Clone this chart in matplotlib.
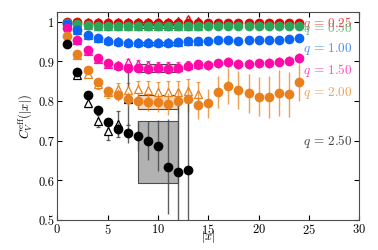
import matplotlib
matplotlib.use('Agg')
import matplotlib.pyplot as plt
from matplotlib.patches import Rectangle
from matplotlib.colors import to_rgba

plt.rcParams['font.family'] = 'serif'
plt.rcParams['font.serif'] = ['cmr10']
plt.rcParams['mathtext.fontset'] = 'cm'
plt.rcParams['axes.formatter.use_mathtext'] = True

# q values and colours
q_labels = ['0.25', '0.50', '1.00', '1.50', '2.00', '2.50']
colors = ['#e60000', '#2ca55a', '#0a64f5', '#ff0aa8', '#e8801e', '#000000']

# circles: x = 1..24 (black 1..13)
x_c = list(range(1, 25))
red_c = [0.999, 0.998, 0.997, 0.997, 0.997, 0.997, 0.997, 0.997, 0.997, 0.997, 0.997, 0.997,
         0.997, 0.997, 0.997, 0.997, 0.997, 0.997, 0.997, 0.997, 0.997, 0.997, 0.997, 0.997]
green_c = [0.997, 0.993, 0.991, 0.990, 0.990, 0.990, 0.990, 0.990, 0.990, 0.990, 0.990, 0.990,
           0.990, 0.990, 0.990, 0.990, 0.990, 0.990, 0.990, 0.990, 0.990, 0.990, 0.990, 0.990]
blue_c = [0.994, 0.980, 0.966, 0.958, 0.951, 0.949, 0.947, 0.946, 0.945, 0.947, 0.947, 0.948,
          0.951, 0.952, 0.951, 0.953, 0.955, 0.952, 0.953, 0.954, 0.953, 0.955, 0.956, 0.958]
mag_c = [0.983, 0.954, 0.929, 0.909, 0.895, 0.889, 0.883, 0.882, 0.881, 0.882, 0.881, 0.883,
         0.889, 0.892, 0.891, 0.895, 0.898, 0.893, 0.893, 0.895, 0.896, 0.899, 0.902, 0.908]
orange_c = [0.965, 0.918, 0.877, 0.848, 0.824, 0.814, 0.805, 0.799, 0.797, 0.796, 0.792, 0.800,
            0.804, 0.790, 0.794, 0.822, 0.837, 0.828, 0.819, 0.811, 0.810, 0.820, 0.817, 0.847]
black_c = [0.944, 0.874, 0.814, 0.777, 0.746, 0.729, 0.718, 0.712, 0.700, 0.687, 0.634, 0.621, 0.625]

red_ce = [0.002] * 24
green_ce = [0.002] * 24
blue_ce = [0.001, 0.002, 0.002, 0.003] + [0.004] * 20
mag_ce = [0.001, 0.002, 0.004, 0.005, 0.006, 0.007, 0.008, 0.009, 0.010, 0.010, 0.011, 0.011,
          0.012, 0.012, 0.012, 0.012, 0.012, 0.012, 0.012, 0.012, 0.012, 0.012, 0.012, 0.013]
orange_ce = [0.002, 0.004, 0.006, 0.010, 0.012, 0.015, 0.018, 0.020, 0.022, 0.025, 0.028, 0.030,
             0.033, 0.035, 0.037, 0.040, 0.045, 0.048, 0.050, 0.050, 0.052, 0.057, 0.057, 0.046]
black_ce = [0.002, 0.005, 0.008, 0.010, 0.012, 0.015, 0.025, 0.038, 0.050, 0.065, 0.120, 0.170, 0.180]

# triangles: x = 2..14 (black 2..7)
x_t = list(range(2, 15))
red_t = [0.998, 0.998, 0.998, 0.998, 0.998, 0.998, 0.998, 0.998, 0.999, 1.000, 1.002, 1.006, 1.002]
green_t = [0.993, 0.991, 0.990, 0.990, 0.990, 0.990, 0.990, 0.990, 0.990, 0.990, 0.990, 0.990, 0.990]
blue_t = [0.980, 0.966, 0.958, 0.953, 0.951, 0.950, 0.949, 0.948, 0.948, 0.948, 0.949, 0.951, 0.952]
mag_t = [0.953, 0.927, 0.907, 0.893, 0.890, 0.897, 0.893, 0.891, 0.888, 0.887, 0.886, 0.890, 0.892]
orange_t = [0.915, 0.868, 0.842, 0.822, 0.830, 0.828, 0.830, 0.828, 0.822, 0.822, 0.822, 0.826, 0.818]
black_t = [0.866, 0.795, 0.750, 0.723, 0.742, 0.805]

red_te = [0.002] * 9 + [0.004, 0.004, 0.005, 0.004]
green_te = [0.002] * 13
blue_te = [0.002, 0.002, 0.003] + [0.004] * 10
mag_te = [0.002, 0.004, 0.005, 0.006, 0.007, 0.010, 0.010, 0.011, 0.011, 0.012, 0.012, 0.012, 0.012]
orange_te = [0.003, 0.006, 0.012, 0.014, 0.016, 0.018, 0.020, 0.022, 0.025, 0.027, 0.028, 0.030, 0.030]
black_te = [0.005, 0.010, 0.015, 0.022, 0.032, 0.067]

# fitted ranges (x from, x to, y low, y high)
rect_x = [8, 12]
rect_y = [(0.993, 0.998), (0.984, 0.991), (0.940, 0.950), (0.873, 0.892), (0.779, 0.816), (0.592, 0.748)]

# label positions
label_y = [0.999, 0.985, 0.933, 0.880, 0.822, 0.700]

circles = [(red_c, red_ce), (green_c, green_ce), (blue_c, blue_ce),
           (mag_c, mag_ce), (orange_c, orange_ce), (black_c, black_ce)]
triangles = [(red_t, red_te), (green_t, green_te), (blue_t, blue_te),
             (mag_t, mag_te), (orange_t, orange_te), (black_t, black_te)]

fig = plt.figure(figsize=(3.78, 2.51), dpi=100)
ax = fig.add_axes([0.1516, 0.1207, 0.7989, 0.8283])

for i in range(len(colors)):
    c = colors[i]
    y0, y1 = rect_y[i]
    ax.add_patch(Rectangle((rect_x[0], y0), rect_x[1] - rect_x[0], y1 - y0,
                           facecolor=c, alpha=0.3, edgecolor='none', zorder=1))
    ax.add_patch(Rectangle((rect_x[0], y0), rect_x[1] - rect_x[0], y1 - y0,
                           facecolor='none', edgecolor='0.3', lw=0.8, zorder=1))

for i in range(len(colors)):
    c = colors[i]
    ec = to_rgba(c, 0.75) if i < 5 else to_rgba('0.3', 0.9)
    ty, te = triangles[i]
    ax.errorbar(x_t[:len(ty)], ty, yerr=te, fmt='^', color=c, mfc='white', mec=c,
                ms=5.5, mew=0.9, ecolor=ec, elinewidth=1, capsize=1.5, zorder=2)
    cy, ce = circles[i]
    ax.errorbar(x_c[:len(cy)], cy, yerr=ce, fmt='o', color=c, ms=7, mew=0,
                ecolor=ec, elinewidth=1, capsize=1.5, zorder=3)
    ax.text(29.3, label_y[i], r'$q\, =\, %s$' % q_labels[i], color=c, alpha=0.75,
            fontsize=9.5, ha='right', va='center')

ax.set_xlim(0, 30)
ax.set_ylim(0.5, 1.025)
ax.set_xticks([0, 5, 10, 15, 20, 25, 30])
ax.set_yticks([0.5, 0.6, 0.7, 0.8, 0.9, 1.0])
ax.set_yticklabels(['0.5', '0.6', '0.7', '0.8', '0.9', '1'])
ax.tick_params(direction='in', top=True, right=True, labelsize=9, length=3.5, pad=2)
for s in ax.spines.values():
    s.set_color('0.3')
ax.set_xlabel(r'$|x|$', fontsize=9, va='center')
ax.xaxis.set_label_coords(0.5, -0.078)
ax.set_ylabel(r'$C_V^{\rm eff}(|x|)$', fontsize=9, labelpad=3)

fig.savefig('out.png', dpi=100)
